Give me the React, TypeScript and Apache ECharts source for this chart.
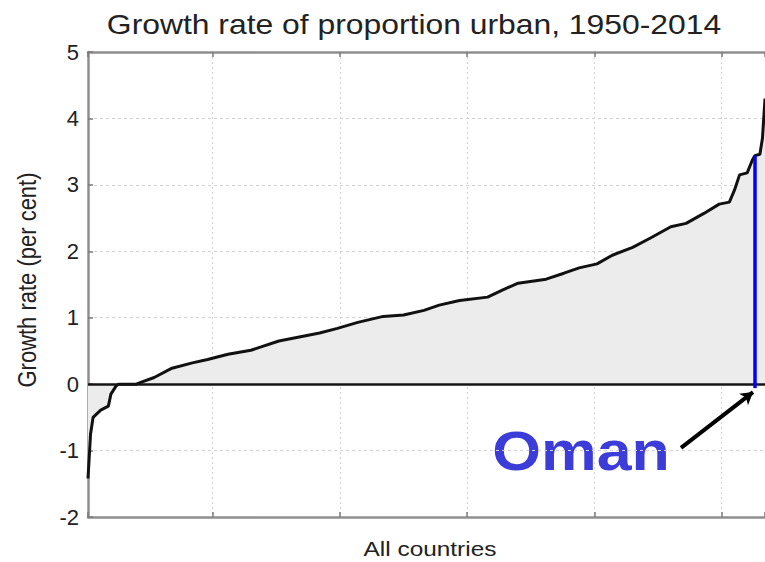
import React, { useEffect, useRef } from "react";
import * as echarts from "echarts";

// Country rank (sorted by growth rate) and growth rate of proportion urban (%)
const ranks = [1, 2, 3, 6, 9, 10, 12, 13, 20, 22, 27, 34, 42, 48, 56, 65, 69, 76, 84, 92, 99, 107, 117, 125, 133, 139, 147, 158, 164, 170, 181, 188, 194, 201, 207, 215, 222, 230, 236, 243, 249, 253, 255, 257, 260, 262, 263, 265, 266, 267];
const growth = [-1.42, -0.75, -0.5, -0.39, -0.33, -0.15, -0.03, 0, 0, 0.03, 0.1, 0.24, 0.32, 0.37, 0.45, 0.51, 0.56, 0.65, 0.71, 0.77, 0.84, 0.93, 1.02, 1.04, 1.11, 1.19, 1.26, 1.31, 1.42, 1.52, 1.58, 1.67, 1.75, 1.81, 1.94, 2.06, 2.2, 2.37, 2.42, 2.57, 2.71, 2.74, 2.92, 3.15, 3.18, 3.37, 3.44, 3.46, 3.7, 4.3];

const xMin = 1;
const xMax = 267;
const yMin = -2;
const yMax = 5;

const highlightName = "Oman";
const highlightRank = 263;
const highlightValue = 3.44;
const arrowFrom = [234, -0.96];
const arrowTo = [262.3, -0.12];

const titleText = "Growth rate of proportion urban, 1950-2014";
const xName = "All countries";
const yName = "Growth rate (per cent)";

const FONT = "'Liberation Sans', Arial, sans-serif";

export default function App() {
  const ref = useRef<HTMLDivElement>(null);
  useEffect(() => {
    if (!ref.current) return;
    const chart = echarts.init(ref.current, undefined, { renderer: "svg" });
    const data = ranks.map((r, i) => [r, growth[i]]);
    const axisLineStyle = { color: "#8f8f8f", width: 2.5 };
    const tickStyle = { show: true, inside: true, length: 5, lineStyle: { color: "#7a7a7a", width: 1.5 } };
    chart.setOption({
      animation: false,
      backgroundColor: "#ffffff",
      grid: { left: 88, top: 52, right: 0, bottom: 45, containLabel: false },
      xAxis: [
        {
          type: "value",
          min: xMin,
          max: xMax,
          splitNumber: 5,
          position: "bottom",
          axisLine: { show: true, onZero: false, lineStyle: axisLineStyle },
          axisTick: tickStyle,
          axisLabel: { show: false },
          splitLine: { show: true, lineStyle: { color: "#d2d2d2", type: [2, 3], width: 1 } },
        },
        {
          type: "value",
          min: xMin,
          max: xMax,
          splitNumber: 5,
          position: "top",
          axisLine: { show: true, onZero: false, lineStyle: axisLineStyle },
          axisTick: tickStyle,
          axisLabel: { show: false },
          splitLine: { show: false },
        },
      ],
      yAxis: {
        type: "value",
        min: yMin,
        max: yMax,
        interval: 1,
        axisLine: { show: true, onZero: false, lineStyle: axisLineStyle },
        axisTick: tickStyle,
        axisLabel: { fontSize: 22, color: "#222", margin: 9, fontFamily: FONT },
        splitLine: { show: true, lineStyle: { color: "#d2d2d2", type: [3, 3], width: 1 } },
      },
      series: [
        {
          type: "line",
          data,
          symbol: "none",
          showSymbol: false,
          lineStyle: { color: "#111", width: 3 },
          areaStyle: { color: "#ececec", opacity: 1, origin: 0 },
          z: 2,
          markLine: {
            silent: true,
            animation: false,
            symbol: "none",
            label: { show: false },
            data: [
              { yAxis: 0, lineStyle: { color: "#151515", width: 2.5, type: "solid" } },
              [
                { coord: [highlightRank, -0.06], symbol: "none", lineStyle: { color: "#0000ff", width: 3.5, type: "solid" } },
                { coord: [highlightRank, highlightValue], symbol: "none", lineStyle: { color: "#0000ff", width: 3.5, type: "solid" } },
              ],
              [
                { coord: arrowFrom, symbol: "none", lineStyle: { color: "#000", width: 4, type: "solid" } },
                { coord: arrowTo, symbol: "arrow", symbolSize: [11, 12], lineStyle: { color: "#000", width: 4, type: "solid" } },
              ],
            ],
          },
        },
      ],
      graphic: [
        {
          type: "text",
          x: 414,
          y: 24,
          scaleX: 1.18,
          style: {
            text: titleText,
            fontSize: 27,
            fontFamily: FONT,
            fill: "#222",
            align: "center",
            verticalAlign: "middle",
          },
        },
        {
          type: "text",
          x: 430,
          y: 549,
          scaleX: 1.22,
          style: {
            text: xName,
            fontSize: 20,
            fontFamily: FONT,
            fill: "#222",
            align: "center",
            verticalAlign: "middle",
          },
        },
        {
          type: "text",
          x: 27,
          y: 280,
          rotation: Math.PI / 2,
          scaleY: 1.15,
          style: {
            text: yName,
            fontSize: 22,
            fontFamily: FONT,
            fill: "#222",
            align: "center",
            verticalAlign: "middle",
          },
        },
        {
          type: "text",
          x: 581,
          y: 451,
          scaleX: 1.12,
          style: {
            text: highlightName,
            fontSize: 56,
            fontWeight: "bold",
            fontFamily: FONT,
            fill: "#3c3cd8",
            align: "center",
            verticalAlign: "middle",
          },
        },
      ],
    });
    return () => chart.dispose();
  }, []);
  return (
    <div
      ref={ref}
      style={{ position: "fixed", left: 0, top: 0, width: 765, height: 562 }}
    />
  );
}
